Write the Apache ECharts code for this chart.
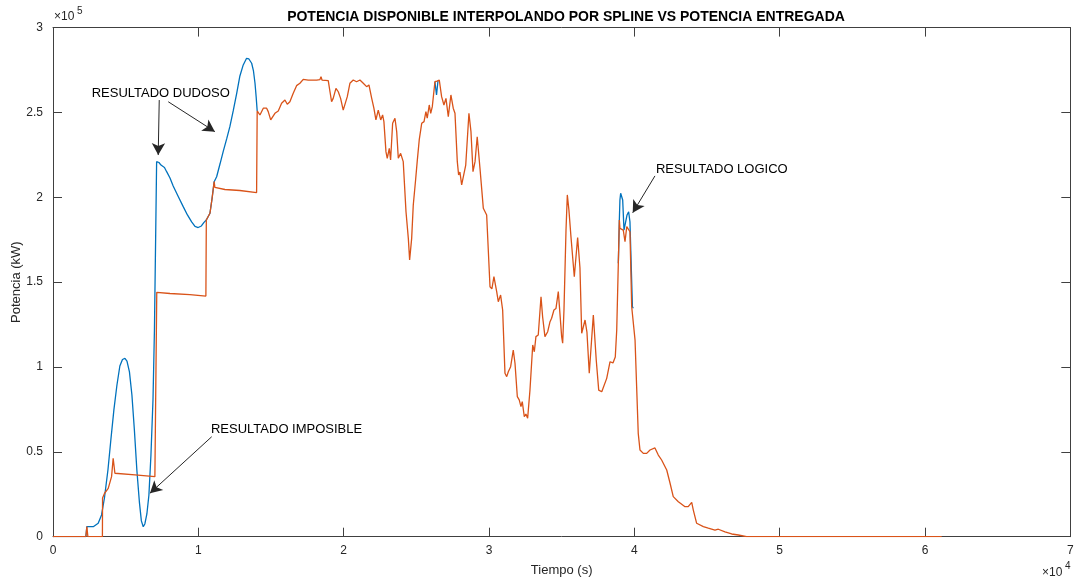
<!DOCTYPE html>
<html>
<head>
<meta charset="utf-8">
<script src="https://cdn.jsdelivr.net/npm/echarts@6/dist/echarts.min.js"></script>
<style>
html,body{margin:0;padding:0;background:#fff;}
#chart{width:1075px;height:581px;}
</style>
</head>
<body>
<div id="chart"></div>
<script>
// ---- Data (time in s, power in kW) ----
const xTickLabels = ['0','1','2','3','4','5','6','7'];
const yTickLabels = ['0','0.5','1','1.5','2','2.5','3'];

// Potencia entregada (orange)
const orangePoints = [
  [0,0],[2260,0],[2330,5900],[2400,0],[3400,0],[3410,22800],[3550,25600],[3800,28500],[3920,29500],
  [4030,35400],[4140,46200],[4260,37400],[5640,36400],[7010,35400],[7120,35400],[7140,144000],
  [8050,143300],[9420,142700],[10520,141800],[10550,186600],[10660,187500],[10800,190600],[10950,199600],
  [11090,209200],[11140,205800],[11830,204600],[12860,204000],[14010,202800],[14050,250900],
  [14240,248500],[14470,252500],[14700,252500],[14810,250500],[14980,245600],[15110,246600],[15270,249500],
  [15500,250900],[15730,255400],[15960,257300],[16120,254800],[16300,256300],[16530,261300],[16760,265800],
  [16990,267200],[17220,269500],[17560,269100],[18140,269100],[18370,269400],[18440,271100],[18510,269100],
  [18940,268700],[19060,262200],[19170,256300],[19280,258300],[19470,264200],[19630,262200],[19790,258300],
  [19970,251400],[20090,251400],[20250,259300],[20430,267200],[20660,269100],[20890,268100],[21120,269100],
  [21350,267200],[21580,265200],[21740,266200],[21930,258300],[22080,252500],[22220,245600],[22380,251400],
  [22550,245600],[22680,248500],[22770,244600],[22910,226900],[23000,223000],[23140,228900],[23230,222000],
  [23370,243600],[23530,246600],[23650,238700],[23760,223000],[23920,225900],[24100,221000],[24290,191500],
  [24450,175800],[24540,163100],[24680,175800],[24790,195500],[24950,210200],[25060,221000],[25200,233800],
  [25370,243600],[25530,244600],[25660,250500],[25750,246600],[25890,254400],[25990,249500],[26100,253400],
  [26280,268100],[26420,268500],[26580,269100],[26740,259300],[26900,254400],[27040,258300],[27200,247500],
  [27380,260300],[27540,252500],[27660,249500],[27820,221000],[27910,213200],[28000,214900],[28120,207300],
  [28240,207800],[28400,219000],[28620,249500],[28760,238700],[28900,215100],[29040,221000],[29190,235700],
  [29380,217100],[29610,193500],[29720,194500],[29840,189600],[30070,147300],[30200,146000],[30340,153200],
  [30530,144400],[30640,138500],[30800,142400],[30940,133600],[31100,96300],[31220,94300],[31330,97200],
  [31490,100200],[31670,110000],[31790,102200],[31950,82500],[32080,80600],[32200,76600],[32290,79600],
  [32430,70700],[32540,72300],[32660,69800],[32820,86400],[33010,113000],[33120,109000],[33230,117900],
  [33390,118900],[33580,141400],[33690,129600],[33850,117900],[34040,120800],[34200,126700],[34310,128700],
  [34470,133600],[34610,134500],[34770,144400],[34890,143600],[35000,117900],[35070,114000],[35160,133600],
  [35300,180700],[35390,201400],[35500,192500],[35640,176800],[35870,153200],[36100,176300],[36260,158300],
  [36380,119900],[36610,127700],[36740,120600],[36900,96300],[37180,130600],[37380,104100],[37550,86400],
  [37760,85400],[38100,93300],[38330,103100],[38440,104100],[38530,102400],[38690,105900],[38790,121800],
  [38900,161100],[38970,186600],[39010,181700],[39240,180700],[39360,173800],[39480,182700],[39570,181900],
  [39700,179700],[39820,135500],[39930,134600],[40050,115900],[40160,88400],[40270,60900],[40390,51100],
  [40620,49100],[40850,49100],[41080,51100],[41420,52300],[41650,48100],[41880,45200],[42230,39300],
  [42460,31500],[42680,23600],[43030,20600],[43490,17700],[43710,17700],[43950,20200],[44060,15700],
  [44290,7900],[44750,5900],[45090,5000],[45550,3900],[45780,4400],[46240,2900],[46700,1600],[47160,1000],
  [47730,100],[61150,0]
];

// Potencia disponible (spline, blue) - visible segments
const blueSegment1 = [
  [0,0],[2260,0],[2330,5900],[2770,5900],[3110,7900],[3340,12800],[3540,22800],[3780,39300],[3980,57000],
  [4190,74700],[4400,89400],[4600,100600],[4780,104400],[4950,105100],[5090,103500],[5260,97100],[5430,83500],
  [5600,62900],[5770,39300],[5950,19900],[6080,9300],[6210,5900],[6320,7500],[6460,13400],[6600,24600],
  [6740,48100],[6880,80600],[6980,121800],[7070,180700],[7130,221000],[7290,220500],[7430,219000],
  [7540,218000],[7670,217600],[7820,215100],[8050,211400],[8270,206700],[8600,200800],[8960,194500],
  [9250,189600],[9540,185500],[9770,182800],[9990,182200],[10210,183100],[10390,185200],[10550,186600],
  [10660,187500],[10800,190600],[10950,199600],[11090,209200],[11260,212100],[11490,219600],[11710,226900],
  [11950,234400],[12170,241600],[12400,250900],[12640,261300],[12860,271500],[13090,278000],[13320,281900],
  [13480,281500],[13670,279000],[13790,274700],[13900,267200],[13980,259100],[14050,250900]
];
const blueSegment2 = [[26280,268100],[26390,260300],[26490,268500]];
const blueSegment3 = [
  [38900,161100],[38970,186600],[39010,198400],[39060,202400],[39130,201400],[39200,198400],[39290,180700],
  [39390,180700],[39500,189600],[39610,191500],[39700,185600],[39870,135500],[39930,134600]
];

// Annotations: text anchors and arrows (data coordinates)
const annotationTexts = [
  {text:'RESULTADO DUDOSO', at:[2660,261300]},
  {text:'RESULTADO IMPOSIBLE', at:[10870,63300]},
  {text:'RESULTADO LOGICO', at:[41490,216500]}
];
const annotationArrows = [
  [[7310,257300],[7240,224900]],
  [[7930,256300],[11140,238700]],
  [[10920,58900],[6670,25600]],
  [[41420,212600],[39890,190900]]
];

// ---- Chart ----
const FONT = '"Liberation Sans", Arial, Helvetica, sans-serif';
const AXC = '#262626';
const chart = echarts.init(document.getElementById('chart'), null, {renderer:'canvas'});

const xBase = {type:'value', min:0, max:70000, interval:10000, splitLine:{show:false}};
const yBase = {type:'value', min:0, max:300000, interval:50000, splitLine:{show:false}};
const axisLine = {show:true, onZero:false, lineStyle:{color:'#404040', width:1}};
const tick = {show:true, inside:true, length:9, lineStyle:{color:'#404040', width:1}};

const blueStyle = {type:'line', showSymbol:false, symbol:'none', animation:false,
  lineStyle:{color:'#0072BD', width:1.3}, itemStyle:{color:'#0072BD'}, z:2, silent:true};

chart.setOption({
  animation:false,
  backgroundColor:'#ffffff',
  textStyle:{fontFamily:FONT},
  title:{
    text:'POTENCIA DISPONIBLE INTERPOLANDO POR SPLINE VS POTENCIA ENTREGADA',
    left:561, top:5, textAlign:'center',
    textStyle:{fontFamily:FONT, fontSize:14, fontWeight:'bold', color:'#000'}
  },
  grid:{left:53, right:4.7, top:27.6, bottom:44.3, containLabel:false, outerBoundsMode:'none'},
  xAxis:[
    Object.assign({}, xBase, {position:'bottom', axisLine:axisLine, axisTick:tick,
      axisLabel:{color:AXC, fontSize:12, fontFamily:FONT, margin:8,
        formatter:(v)=>xTickLabels[Math.round(v/10000)]},
      name:'Tiempo (s)', nameLocation:'middle', nameGap:27, nameMoveOverlap:false,
      nameTextStyle:{color:AXC, fontSize:13, fontFamily:FONT}}),
    Object.assign({}, xBase, {position:'top', axisLine:axisLine, axisTick:tick, axisLabel:{show:false}})
  ],
  yAxis:[
    Object.assign({}, yBase, {position:'left', axisLine:axisLine, axisTick:tick,
      axisLabel:{color:AXC, fontSize:12, fontFamily:FONT, margin:10,
        formatter:(v)=>yTickLabels[Math.round(v/50000)]},
      name:'Potencia (kW)', nameLocation:'middle', nameGap:30, nameRotate:90, nameMoveOverlap:false,
      nameTextStyle:{color:AXC, fontSize:13, fontFamily:FONT}}),
    Object.assign({}, yBase, {position:'right', axisLine:axisLine, axisTick:tick, axisLabel:{show:false}})
  ],
  graphic:[
    {type:'text', left:54, top:11, style:{text:'×10', fill:AXC, font:'12px '+FONT}},
    {type:'text', left:77, top:6, style:{text:'5', fill:AXC, font:'10px '+FONT}},
    {type:'text', left:1042, top:567, style:{text:'×10', fill:AXC, font:'12px '+FONT}},
    {type:'text', left:1065, top:561, style:{text:'4', fill:AXC, font:'10px '+FONT}}
  ],
  series:[
    Object.assign({}, blueStyle, {name:'Disponible1', data:blueSegment1}),
    Object.assign({}, blueStyle, {name:'Disponible2', data:blueSegment2}),
    Object.assign({}, blueStyle, {name:'Disponible3', data:blueSegment3}),
    {
      name:'Entregada', type:'line', data:orangePoints, showSymbol:false, symbol:'none', animation:false,
      lineStyle:{color:'#D95319', width:1.3}, itemStyle:{color:'#D95319'}, z:3, silent:true,
      markLine:{
        silent:true, animation:false, symbol:['none','arrow'], symbolSize:[10,12],
        lineStyle:{color:'#262626', width:1, type:'solid'}, label:{show:false},
        data: annotationArrows.map(a => [{coord:a[0]}, {coord:a[1]}])
      },
      markPoint:{
        silent:true, animation:false,
        data: annotationTexts.map(a => ({
          coord:a.at, symbol:'circle', symbolSize:0,
          label:{show:true, position:'right', distance:0, formatter:a.text,
            color:'#000', fontSize:13, fontFamily:FONT}
        }))
      }
    }
  ]
});
</script>
</body>
</html>
